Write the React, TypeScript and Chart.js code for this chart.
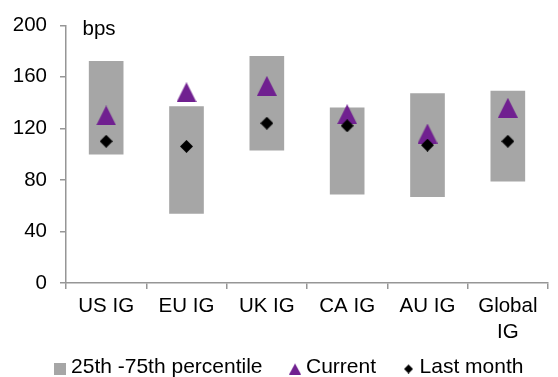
import React, { useEffect, useRef } from 'react';
import { Chart, registerables } from 'chart.js';

Chart.register(...registerables);

const categories: (string | string[])[] = ['US IG', 'EU IG', 'UK IG', 'CA IG', 'AU IG', ['Global', 'IG']];
const p25 = [100, 54, 103, 69, 67, 79];
const p75 = [172, 137, 176, 136, 147, 149];
const current = [130, 148, 153, 131, 116, 136];
const lastMonth = [110, 106, 124, 122, 107, 110];
const seriesLabels = ['25th -75th percentile', 'Current', 'Last month'];
const unitLabel = 'bps';

const FONT = '"Liberation Sans", Arial, sans-serif';
const GREY = '#a6a6a6';
const PURPLE = '#702090';
const AXIS = '#969696';

function makeIcon(kind: string, w: number, h: number, color: string, padTop = 0): HTMLCanvasElement {
  const c = document.createElement('canvas');
  c.width = w;
  c.height = h + padTop;
  const ctx = c.getContext('2d')!;
  ctx.fillStyle = color;
  ctx.beginPath();
  const t = padTop;
  if (kind === 'square') {
    ctx.rect(0, t, w, h);
  } else if (kind === 'triangle') {
    ctx.moveTo(w / 2, t);
    ctx.lineTo(w, t + h);
    ctx.lineTo(0, t + h);
    ctx.closePath();
  } else {
    ctx.moveTo(w / 2, t);
    ctx.lineTo(w, t + h / 2);
    ctx.lineTo(w / 2, t + h);
    ctx.lineTo(0, t + h / 2);
    ctx.closePath();
  }
  ctx.fill();
  return c;
}

export default function App() {
  const ref = useRef<HTMLCanvasElement>(null);

  useEffect(() => {
    if (!ref.current) return;
    const triPoint = makeIcon('triangle', 20, 20, PURPLE);
    const diaPoint = makeIcon('diamond', 13, 13, '#000000');
    const legendIcons = [
      makeIcon('square', 12, 12, GREY, 3),
      makeIcon('triangle', 12, 11, PURPLE, 3),
      makeIcon('diamond', 9, 9, '#000000', 3),
    ];

    const unitPlugin = {
      id: 'unitLabel',
      afterDraw(chart: any) {
        const { ctx, chartArea } = chart;
        ctx.save();
        ctx.font = `20.5px ${FONT}`;
        ctx.fillStyle = '#000';
        ctx.textAlign = 'left';
        ctx.textBaseline = 'alphabetic';
        ctx.fillText(unitLabel, chartArea.left + 16.5, chartArea.top + 9.7);
        ctx.restore();
      },
    };

    // place the legend row like the reference (below the two-line category label)
    const legendPlace = {
      id: 'legendPlace',
      afterLayout(chart: any) {
        const lg = chart.legend;
        if (!lg) return;
        lg.top = 325;
        lg.bottom = 377;
        lg.height = 52;
        lg.left = 14;
        lg.right = 569;
        lg.width = 555;
      },
    };

    const chart = new Chart(ref.current, {
      type: 'bar',
      data: {
        labels: categories as any,
        datasets: [
          {
            type: 'bar',
            label: seriesLabels[0],
            data: p25.map((v, i) => [v, p75[i]]) as any,
            backgroundColor: GREY,
            borderWidth: 0,
            barThickness: 34,
            order: 2,
          },
          {
            type: 'line',
            label: seriesLabels[1],
            data: current,
            showLine: false,
            pointStyle: triPoint as any,
            pointRadius: 10,
            order: 1,
          },
          {
            type: 'line',
            label: seriesLabels[2],
            data: lastMonth,
            showLine: false,
            pointStyle: diaPoint as any,
            pointRadius: 7,
            order: 0,
          },
        ],
      },
      options: {
        animation: false,
        responsive: true,
        maintainAspectRatio: false,
        layout: { padding: { left: 8, top: 22, right: 0, bottom: 0 } },
        scales: {
          x: {
            offset: true,
            grid: { drawOnChartArea: false, offset: true, tickLength: 6, color: AXIS, lineWidth: 1.5 },
            border: { color: AXIS, width: 1.5 },
            ticks: {
              color: '#000',
              font: { family: FONT, size: 20.5, lineHeight: 1.27 },
              padding: 4,
              maxRotation: 0,
              autoSkip: false,
            },
            afterFit: (scale: any) => {
              scale.height = 60;
              scale.paddingLeft = 0;
              scale.paddingRight = 0;
            },
          },
          y: {
            min: 0,
            max: 200,
            grid: { drawOnChartArea: false, tickLength: 6, color: AXIS, lineWidth: 1.5 },
            border: { color: AXIS, width: 1.5 },
            ticks: {
              stepSize: 40,
              color: '#000',
              font: { family: FONT, size: 20.5 },
              padding: 13,
            },
            afterFit: (scale: any) => {
              scale.width = 58;
            },
          },
        },
        plugins: {
          tooltip: { enabled: false },
          legend: {
            position: 'bottom',
            maxHeight: 34,
            labels: {
              usePointStyle: true,
              boxWidth: 1,
              padding: 32,
              color: '#000',
              font: { family: FONT, size: 21 },
              generateLabels: (ch: any) =>
                ch.data.datasets.map((ds: any, i: number) => ({
                  text: ds.label,
                  pointStyle: legendIcons[i],
                  fillStyle: 'transparent',
                  strokeStyle: 'transparent',
                  lineWidth: 0,
                  hidden: false,
                  datasetIndex: i,
                  fontColor: '#000',
                })),
            },
          },
        },
      },
      plugins: [unitPlugin, legendPlace],
    });

    return () => chart.destroy();
  }, []);

  return (
    <div style={{ position: 'fixed', left: 0, top: 0, right: 0, bottom: 0, overflow: 'hidden', background: '#fff' }}>
      <div style={{ position: 'absolute', left: 0, top: 0, width: 559, height: 377 }}>
        <canvas ref={ref} />
      </div>
    </div>
  );
}
